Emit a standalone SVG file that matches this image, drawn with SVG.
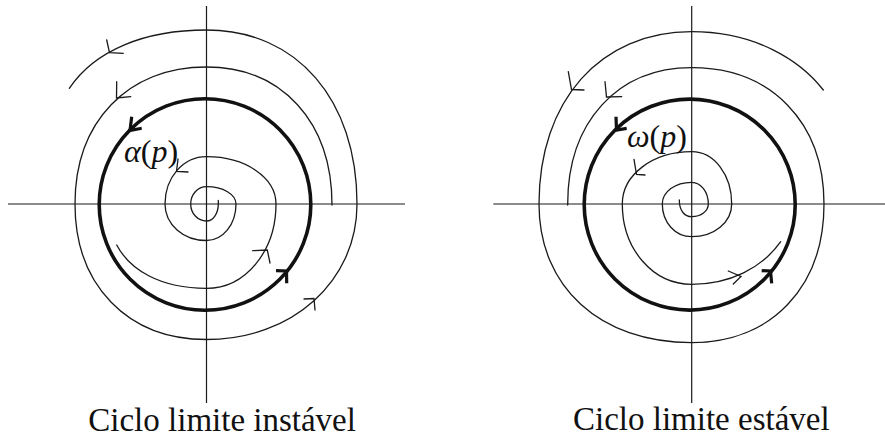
<svg xmlns="http://www.w3.org/2000/svg" width="885" height="438" viewBox="0 0 885 438">
<style>
.ax{stroke:#1a1a1a;stroke-width:1.2;fill:none}
.tr{stroke:#1a1a1a;stroke-width:1.3;fill:none;stroke-linecap:round}
.cyc{stroke:#111;stroke-width:3.6;fill:none}
.ah{stroke:#1a1a1a;stroke-width:1.3;fill:none;stroke-linecap:round;stroke-linejoin:miter}
.ahb{stroke:#111;stroke-width:3.2;fill:none;stroke-linejoin:miter}
.lbl{font-family:"Liberation Serif","Times New Roman",serif;fill:#111}
</style>
<rect width="885" height="438" fill="#fff"/>
<g id="left-diagram">
  <g id="left-axes">
    <line class="ax" x1="8" y1="204" x2="405" y2="204"/>
    <line class="ax" x1="206.5" y1="6" x2="206.5" y2="403"/>
  </g>
  <g id="left-cycle">
    <circle class="cyc" cx="205" cy="204.5" r="105.8"/>
    <path class="ahb" d="M141.7 128.3 L130 130.5 L131.7 116.7"/>
    <path class="ahb" d="M276 270.7 L286.5 271 L286.7 283.3"/>
  </g>
  <g id="left-outer">
    <path class="tr" d="M332 205 C332 121.8 281.8 67 206.5 67 C127.6 67 75 121.8 75 204 C75 285.3 127.6 339.5 206.5 339.5 C292.3 339.5 357 281.2 357 204 C357 99.6 296.8 30 206.5 30 C145 30 95 50 69.3 88.3"/>
    <path class="ah" d="M123.3 53.3 L109.5 52.6 L106.7 40"/>
    <path class="ah" d="M130.7 96.7 L116.5 98 L116.7 81.7"/>
    <path class="ah" d="M304 299 L314 298.5 L315 310"/>
  </g>
  <g id="left-inner">
    <path class="tr" d="M116.7 245 C130 270 160 288.3 206.5 288.3 C245.4 288.3 276 251.2 276 204 C276 177.5 245.4 156.7 206.5 156.7 C183.3 156.7 165 177.5 165 204 C165 224.4 183.3 240.5 206.5 240.5 C223 240.5 236 224.4 236 204 C236 194.3 223 186.7 206.5 186.7 C197.7 186.7 190.7 194.3 190.7 204 C190.7 213.5 197.7 221 206.5 221 C213.1 221 218.3 213.5 218.3 204 L218.3 200.5"/>
    <path class="ah" d="M188 172 L176.5 171.5 L178 159"/>
    <path class="ah" d="M252.7 250.7 L267.3 250 L270 263"/>
  </g>
  <g id="left-label">
    <text class="lbl" x="124" y="161.7" font-size="32"><tspan font-style="italic">α</tspan>(<tspan font-style="italic">p</tspan>)</text>
  </g>
  <text class="lbl" x="88.3" y="430.5" font-size="33">Ciclo limite instável</text>
</g>
<g id="right-diagram">
  <g id="right-axes">
    <line class="ax" x1="493.3" y1="204" x2="885" y2="204"/>
    <line class="ax" x1="691.7" y1="6" x2="691.7" y2="403"/>
  </g>
  <g id="right-cycle">
    <circle class="cyc" cx="689.7" cy="204.6" r="105.5"/>
    <path class="ahb" d="M626.7 128.3 L616.5 130 L616 116.7"/>
    <path class="ahb" d="M761.7 270.7 L770.5 271 L771.7 283.3"/>
  </g>
  <g id="right-outer">
    <path class="tr" d="M823.3 90 C800 60 755 31.7 691.7 31.7 C600.1 31.7 539 100.6 539 204 C539 287.2 600.1 342.7 691.7 342.7 C771.1 342.7 824 287.2 824 204 C824 122.2 771.1 67.7 691.7 67.7 C617.3 67.7 567.7 122.2 567.7 204 L567.7 205"/>
    <path class="ah" d="M584 90 L571.5 89.5 L568.3 71.7"/>
    <path class="ah" d="M621.7 96.7 L606.5 97 L605 81.7"/>
  </g>
  <g id="right-inner">
    <path class="tr" d="M679.3 200 C679.3 211 684.8 216.7 691.7 216.7 C701 216.7 708.3 211.1 708.3 204 C708.3 191.8 701 182.3 691.7 182.3 C675.2 182.3 662.3 191.8 662.3 204 C662.3 222.3 675.2 236.7 691.7 236.7 C714.1 236.7 731.7 222.3 731.7 204 C731.7 174.7 714.1 151.7 691.7 151.7 C652.8 151.7 622.3 174.7 622.3 204 C622.3 249 652.8 284.3 691.7 284.3 C730 284.3 762 268 780.7 241.7"/>
    <path class="ah" d="M645 175 L636.5 174.5 L634 159.3"/>
    <path class="ah" d="M728.3 271 L741 276.5 L733.3 284"/>
  </g>
  <g id="right-label">
    <text class="lbl" x="627" y="146.7" font-size="32"><tspan font-style="italic">ω</tspan>(<tspan font-style="italic">p</tspan>)</text>
  </g>
  <text class="lbl" x="573" y="429.5" font-size="33">Ciclo limite estável</text>
</g>
</svg>
